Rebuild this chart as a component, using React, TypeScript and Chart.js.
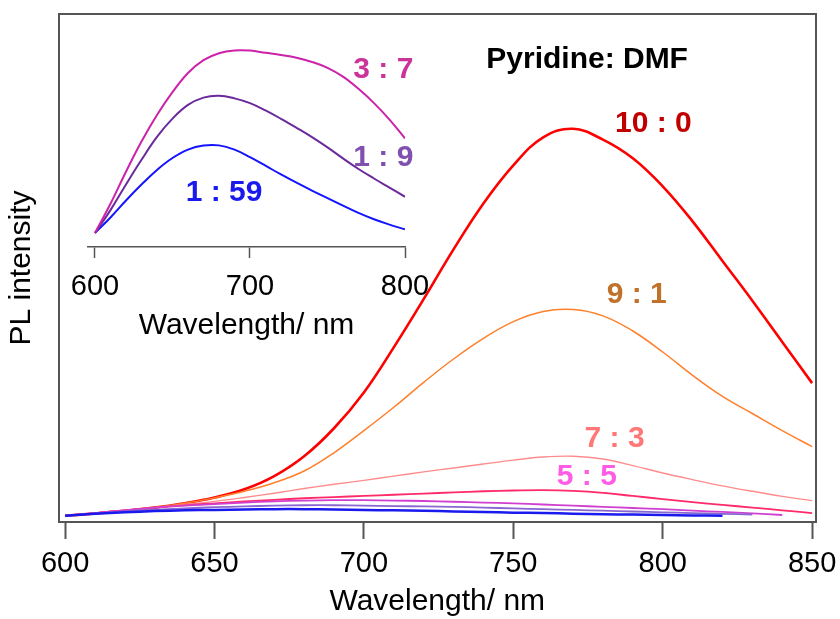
import React, { useEffect, useRef } from 'react';
import { Chart, registerables } from 'chart.js';

Chart.register(...registerables);

// ---------- main plot data (PL intensity, a.u.) ----------
const mainWavelengths = [600, 610, 620, 630, 640, 650, 660, 670, 680, 690, 700, 710, 720, 730, 740, 750, 760, 770, 780, 790, 800, 810, 820, 830, 840, 850];
const ratio10to0 = [0.3, 0.9, 1.6, 2.4, 3.5, 5.0, 7.1, 10.5, 15.6, 22.8, 32.0, 43.6, 56.0, 68.8, 80.6, 90.4, 97.6, 99.8, 97.0, 92.2, 85.0, 76.0, 65.8, 55.6, 45.0, 34.4];
const ratio9to1 = [0.3, 0.9, 1.6, 2.4, 3.5, 4.9, 6.6, 8.8, 11.8, 16.5, 22.2, 28.2, 34.6, 40.6, 45.9, 50.2, 52.8, 53.3, 51.7, 47.8, 42.4, 36.4, 31.0, 26.6, 22.2, 18.1];
const ratio7to3 = [0.3, 1.0, 1.7, 2.4, 3.2, 4.0, 5.0, 6.1, 7.3, 8.4, 9.4, 10.5, 11.6, 12.6, 13.6, 14.6, 15.4, 15.6, 14.9, 13.2, 11.3, 9.6, 8.0, 6.6, 5.3, 4.2];
const ratio5to5 = [0.3, 1.0, 1.7, 2.4, 3.0, 3.5, 4.0, 4.4, 4.8, 5.1, 5.4, 5.7, 6.0, 6.3, 6.6, 6.8, 6.9, 6.7, 6.2, 5.4, 4.6, 3.8, 3.1, 2.4, 1.7, 1.0];
const ratio3to7 = [0.3, 1.0, 1.7, 2.4, 2.9, 3.3, 3.7, 4.0, 4.2, 4.3, 4.3, 4.2, 4.1, 3.9, 3.7, 3.5, 3.2, 2.9, 2.6, 2.3, 2.0, 1.6, 1.3, 0.9, 0.5, null];
const ratio1to9 = [0.3, 0.9, 1.4, 1.9, 2.2, 2.5, 2.7, 2.9, 3.0, 3.0, 2.9, 2.8, 2.7, 2.6, 2.4, 2.2, 2.0, 1.8, 1.6, 1.4, 1.2, 1.0, 0.8, 0.6, null, null];
const ratio1to59 = [0.3, 0.8, 1.2, 1.5, 1.7, 1.8, 1.9, 2.0, 2.0, 1.9, 1.8, 1.7, 1.6, 1.4, 1.3, 1.1, 1.0, 0.85, 0.7, 0.6, 0.5, 0.4, 0.3, null, null, null];
const mainTickValues = [600, 650, 700, 750, 800, 850];

// ---------- inset data ----------
const insetWavelengths = [600, 610, 620, 630, 640, 650, 660, 670, 680, 690, 700, 710, 720, 730, 740, 750, 760, 770, 780, 790, 800];
const inset3to7 = [0, 16, 33.5, 50, 64.5, 77, 87.5, 94.5, 98.3, 99.8, 99.7, 98.5, 97.3, 95.8, 93.5, 90.3, 85.5, 78.8, 71, 62, 51.7];
const inset1to9 = [0, 12.5, 26.5, 40, 52.5, 62.5, 70, 74, 75, 73.6, 71, 67, 62.4, 57.5, 52.4, 46.8, 40.8, 35, 29.8, 24.8, 19.8];
const inset1to59 = [0, 8.5, 17.8, 26.5, 34.5, 41, 45.6, 47.8, 47.9, 45.6, 41.5, 36.8, 32.0, 27.5, 23.2, 19.1, 15.0, 11.0, 7.5, 4.6, 2.0];
const insetTickValues = [600, 700, 800];

const FONT = '"Liberation Sans", Arial, Helvetica, sans-serif';
const AXIS_GRAY = '#555555';

const toPoints = (xs: number[], ys: (number | null)[]) => xs.map((x, i) => ({ x, y: ys[i] }));

const textLabelsPlugin = {
  id: 'textLabels',
  afterDatasetsDraw(chart: any, _args: any, opts: any) {
    const { ctx, scales } = chart;
    const xs = scales.x;
    const ys = scales.y;
    ctx.save();
    ctx.textAlign = 'center';
    ctx.textBaseline = 'middle';
    for (const it of opts.items || []) {
      ctx.font = it.font;
      ctx.fillStyle = it.color;
      ctx.fillText(it.text, xs.getPixelForValue(it.x), ys.getPixelForValue(it.y));
    }
    ctx.restore();
  },
};

const framePlugin = {
  id: 'frame',
  afterDraw(chart: any, _args: any, opts: any) {
    if (!opts || !opts.enabled) return;
    const { ctx, chartArea } = chart;
    const { left, top, right, bottom } = chartArea;
    ctx.save();
    ctx.strokeStyle = opts.color;
    ctx.lineWidth = opts.width;
    ctx.beginPath();
    ctx.moveTo(left, top);
    ctx.lineTo(right, top);
    ctx.lineTo(right, bottom);
    ctx.stroke();
    ctx.restore();
  },
};

const line = (label: string, xs: number[], ys: (number | null)[], color: string, width: number) => ({
  label,
  data: toPoints(xs, ys),
  borderColor: color,
  backgroundColor: color,
  borderWidth: width,
  pointRadius: 0,
  tension: 0.4,
  fill: false,
});

export default function App() {
  const mainRef = useRef<HTMLCanvasElement>(null);
  const insetRef = useRef<HTMLCanvasElement>(null);

  useEffect(() => {
    const boldFont = `bold 30px ${FONT}`;
    const main = new Chart(mainRef.current as HTMLCanvasElement, {
      type: 'line',
      data: {
        datasets: [
          line('1 : 59', mainWavelengths, ratio1to59, '#1a1aee', 2.5),
          line('1 : 9', mainWavelengths, ratio1to9, '#8a66d0', 1.8),
          line('3 : 7', mainWavelengths, ratio3to7, '#d040d0', 1.8),
          line('5 : 5', mainWavelengths, ratio5to5, '#ff2a6a', 1.8),
          line('7 : 3', mainWavelengths, ratio7to3, '#ff8c8c', 1.4),
          line('9 : 1', mainWavelengths, ratio9to1, '#ff7f2a', 1.5),
          line('10 : 0', mainWavelengths, ratio10to0, '#ff0000', 2.6),
        ],
      },
      options: {
        animation: false,
        responsive: false,
        devicePixelRatio: 1,
        layout: { padding: { left: 0, top: 14, right: 24, bottom: 0 } },
        plugins: {
          legend: { display: false },
          tooltip: { enabled: false },
          textLabels: {
            items: [
              { text: 'Pyridine: DMF', x: 774.7, y: 117.5, color: '#000000', font: boldFont },
              { text: '10 : 0', x: 796.9, y: 101, color: '#c00000', font: boldFont },
              { text: '9 : 1', x: 791.3, y: 57.1, color: '#c0722a', font: boldFont },
              { text: '7 : 3', x: 783.9, y: 20.2, color: '#ff7777', font: boldFont },
              { text: '5 : 5', x: 774.6, y: 10.4, color: '#ff5ce6', font: boldFont },
            ],
          },
          frame: { enabled: true, color: AXIS_GRAY, width: 2 },
        } as any,
        scales: {
          x: {
            type: 'linear',
            min: 597.8,
            max: 851.3,
            afterBuildTicks: (axis: any) => {
              axis.ticks = mainTickValues.map((value) => ({ value }));
            },
            afterFit: (s: any) => {
              s.height = 97;
              s.paddingLeft = 0;
              s.paddingRight = 0;
            },
            grid: { display: true, drawOnChartArea: false, drawTicks: true, tickLength: 17, tickColor: AXIS_GRAY, tickWidth: 2 },
            border: { display: true, color: AXIS_GRAY, width: 2 },
            ticks: { color: '#000000', font: { family: FONT, size: 29, lineHeight: 1 }, padding: 10.8, maxRotation: 0, autoSkip: false },
            title: { display: true, text: 'Wavelength/ nm', color: '#000000', font: { family: FONT, size: 30, lineHeight: 1 }, padding: { top: 0, bottom: 2 } },
          },
          y: {
            type: 'linear',
            min: -1.3,
            max: 129.3,
            afterFit: (s: any) => {
              s.width = 58.5;
              s.paddingTop = 0;
              s.paddingBottom = 0;
            },
            grid: { display: false },
            border: { display: true, color: AXIS_GRAY, width: 2 },
            ticks: { display: false },
            title: { display: true, text: 'PL intensity', color: '#000000', font: { family: FONT, size: 30, lineHeight: 1 }, padding: { top: 6.5, bottom: 0 } },
          },
        },
      } as any,
      plugins: [textLabelsPlugin, framePlugin],
    });

    const inset = new Chart(insetRef.current as HTMLCanvasElement, {
      type: 'line',
      data: {
        datasets: [
          line('3 : 7', insetWavelengths, inset3to7, '#cc22aa', 2),
          line('1 : 9', insetWavelengths, inset1to9, '#6a2a9c', 2),
          line('1 : 59', insetWavelengths, inset1to59, '#1414ff', 2),
        ],
      },
      options: {
        animation: false,
        responsive: false,
        devicePixelRatio: 1,
        layout: { padding: { left: 88, top: 40, right: 35, bottom: 0 } },
        plugins: {
          legend: { display: false },
          tooltip: { enabled: false },
          textLabels: {
            items: [
              { text: '3 : 7', x: 786, y: 89.5, color: '#cc3399', font: boldFont },
              { text: '1 : 9', x: 786, y: 41.3, color: '#8050b0', font: boldFont },
              { text: '1 : 59', x: 683.3, y: 22.1, color: '#1a1aee', font: boldFont },
            ],
          },
          frame: { enabled: false },
        } as any,
        scales: {
          x: {
            type: 'linear',
            min: 595.5,
            max: 800,
            afterBuildTicks: (axis: any) => {
              axis.ticks = insetTickValues.map((value) => ({ value }));
            },
            afterFit: (s: any) => {
              s.height = 98;
              s.paddingLeft = 0;
              s.paddingRight = 0;
            },
            grid: { display: true, drawOnChartArea: false, drawTicks: true, tickLength: 11, tickColor: AXIS_GRAY, tickWidth: 1.5 },
            border: { display: true, color: AXIS_GRAY, width: 1.5 },
            ticks: { color: '#000000', font: { family: FONT, size: 29, lineHeight: 1 }, padding: 14.2, maxRotation: 0, autoSkip: false },
            title: { display: true, text: 'Wavelength/ nm', color: '#000000', font: { family: FONT, size: 30, lineHeight: 1 }, padding: { top: 0, bottom: 4.4 } },
          },
          y: {
            type: 'linear',
            display: false,
            min: -7.65,
            max: 105.5,
          },
        },
      } as any,
      plugins: [textLabelsPlugin, framePlugin],
    });

    return () => {
      main.destroy();
      inset.destroy();
    };
  }, []);

  return (
    <div style={{ position: 'absolute', left: 0, top: 0, width: 840, height: 619, background: '#ffffff' }}>
      <canvas ref={mainRef} width={840} height={619} style={{ position: 'absolute', left: 0, top: 0 }} />
      <canvas ref={insetRef} width={440} height={345} style={{ position: 'absolute', left: 0, top: 0 }} />
    </div>
  );
}
